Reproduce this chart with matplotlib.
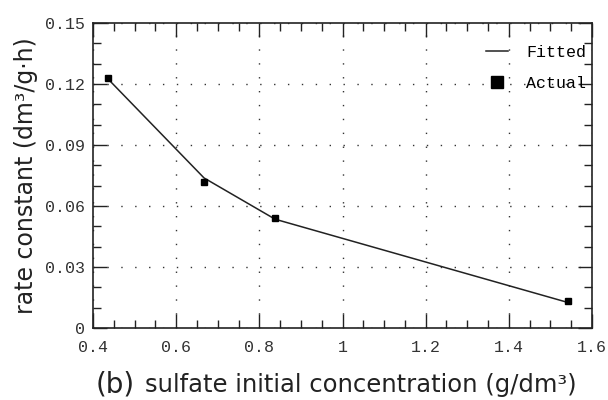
import matplotlib.pyplot as plt
import numpy as np

# data
conc = [0.436, 0.667, 0.838, 1.543]          # sulfate initial concentration (g/dm3)
actual = [0.1230, 0.0718, 0.0540, 0.0133]    # measured rate constant
fitted = [0.1225, 0.0738, 0.0535, 0.0125]    # fitted rate constant

xticks = [0.4, 0.6, 0.8, 1.0, 1.2, 1.4, 1.6]
xlabels = ['0.4', '0.6', '0.8', '1', '1.2', '1.4', '1.6']
yticks = [0, 0.03, 0.06, 0.09, 0.12, 0.15]
ylabels = ['0', '0.03', '0.06', '0.09', '0.12', '0.15']

mono = 'Liberation Mono'
W, H = 608, 400

fig = plt.figure(figsize=(6.08, 4.0), dpi=100)
# axes box: x 93..592 px, y 23..328 px (from top)
ax = fig.add_axes([93 / W, (H - 328) / H, (592 - 93) / W, (328 - 23) / H])

ax.plot(conc, fitted, color='#222222', lw=1.1, label='Fitted')
ax.plot(conc, actual, ls='none', marker='s', ms=5, color='black', label='Actual')

ax.set_xlim(0.4, 1.6)
ax.set_ylim(0, 0.15)
ax.set_xticks(xticks)
ax.set_xticklabels(xlabels, fontfamily=mono, fontsize=12, color='#333333')
ax.set_yticks(yticks)
ax.set_yticklabels(ylabels, fontfamily=mono, fontsize=12, color='#333333')
ax.set_xticks(np.arange(0.4, 1.6001, 0.05), minor=True)
ax.set_yticks(np.arange(0, 0.1501, 0.01), minor=True)

ax.tick_params(which='both', direction='in', top=True, right=True, color='#222222')
ax.tick_params(which='major', length=10, width=1)
ax.tick_params(which='minor', length=6, width=1)
ax.tick_params(axis='x', pad=9)
ax.tick_params(axis='y', pad=6)

for s in ax.spines.values():
    s.set_linewidth(1.2)
    s.set_color('#222222')

ax.grid(True, which='major', color='#333333', lw=1, ls=(0, (1, 9)))

ax.set_ylabel('rate constant (dm³/g·h)', fontsize=17, color='#222222', labelpad=5)

# x label: larger "(b)" followed by the axis title
fig.text(96 / W, 8 / H, '(b)', fontsize=20, color='#222222', va='baseline', ha='left')
fig.text(145 / W, 8 / H, 'sulfate initial concentration (g/dm³)', fontsize=17.5,
         color='#222222', va='baseline', ha='left')

leg = ax.legend(loc='upper right', frameon=False, prop={'family': mono, 'size': 12},
                handlelength=1.3, handletextpad=1.1, borderaxespad=0, borderpad=0,
                labelspacing=0.95, markerscale=1.7,
                bbox_to_anchor=((586 - 93) / 499, 1 - (45 - 23) / 305))

fig.savefig('out.png', dpi=100)
